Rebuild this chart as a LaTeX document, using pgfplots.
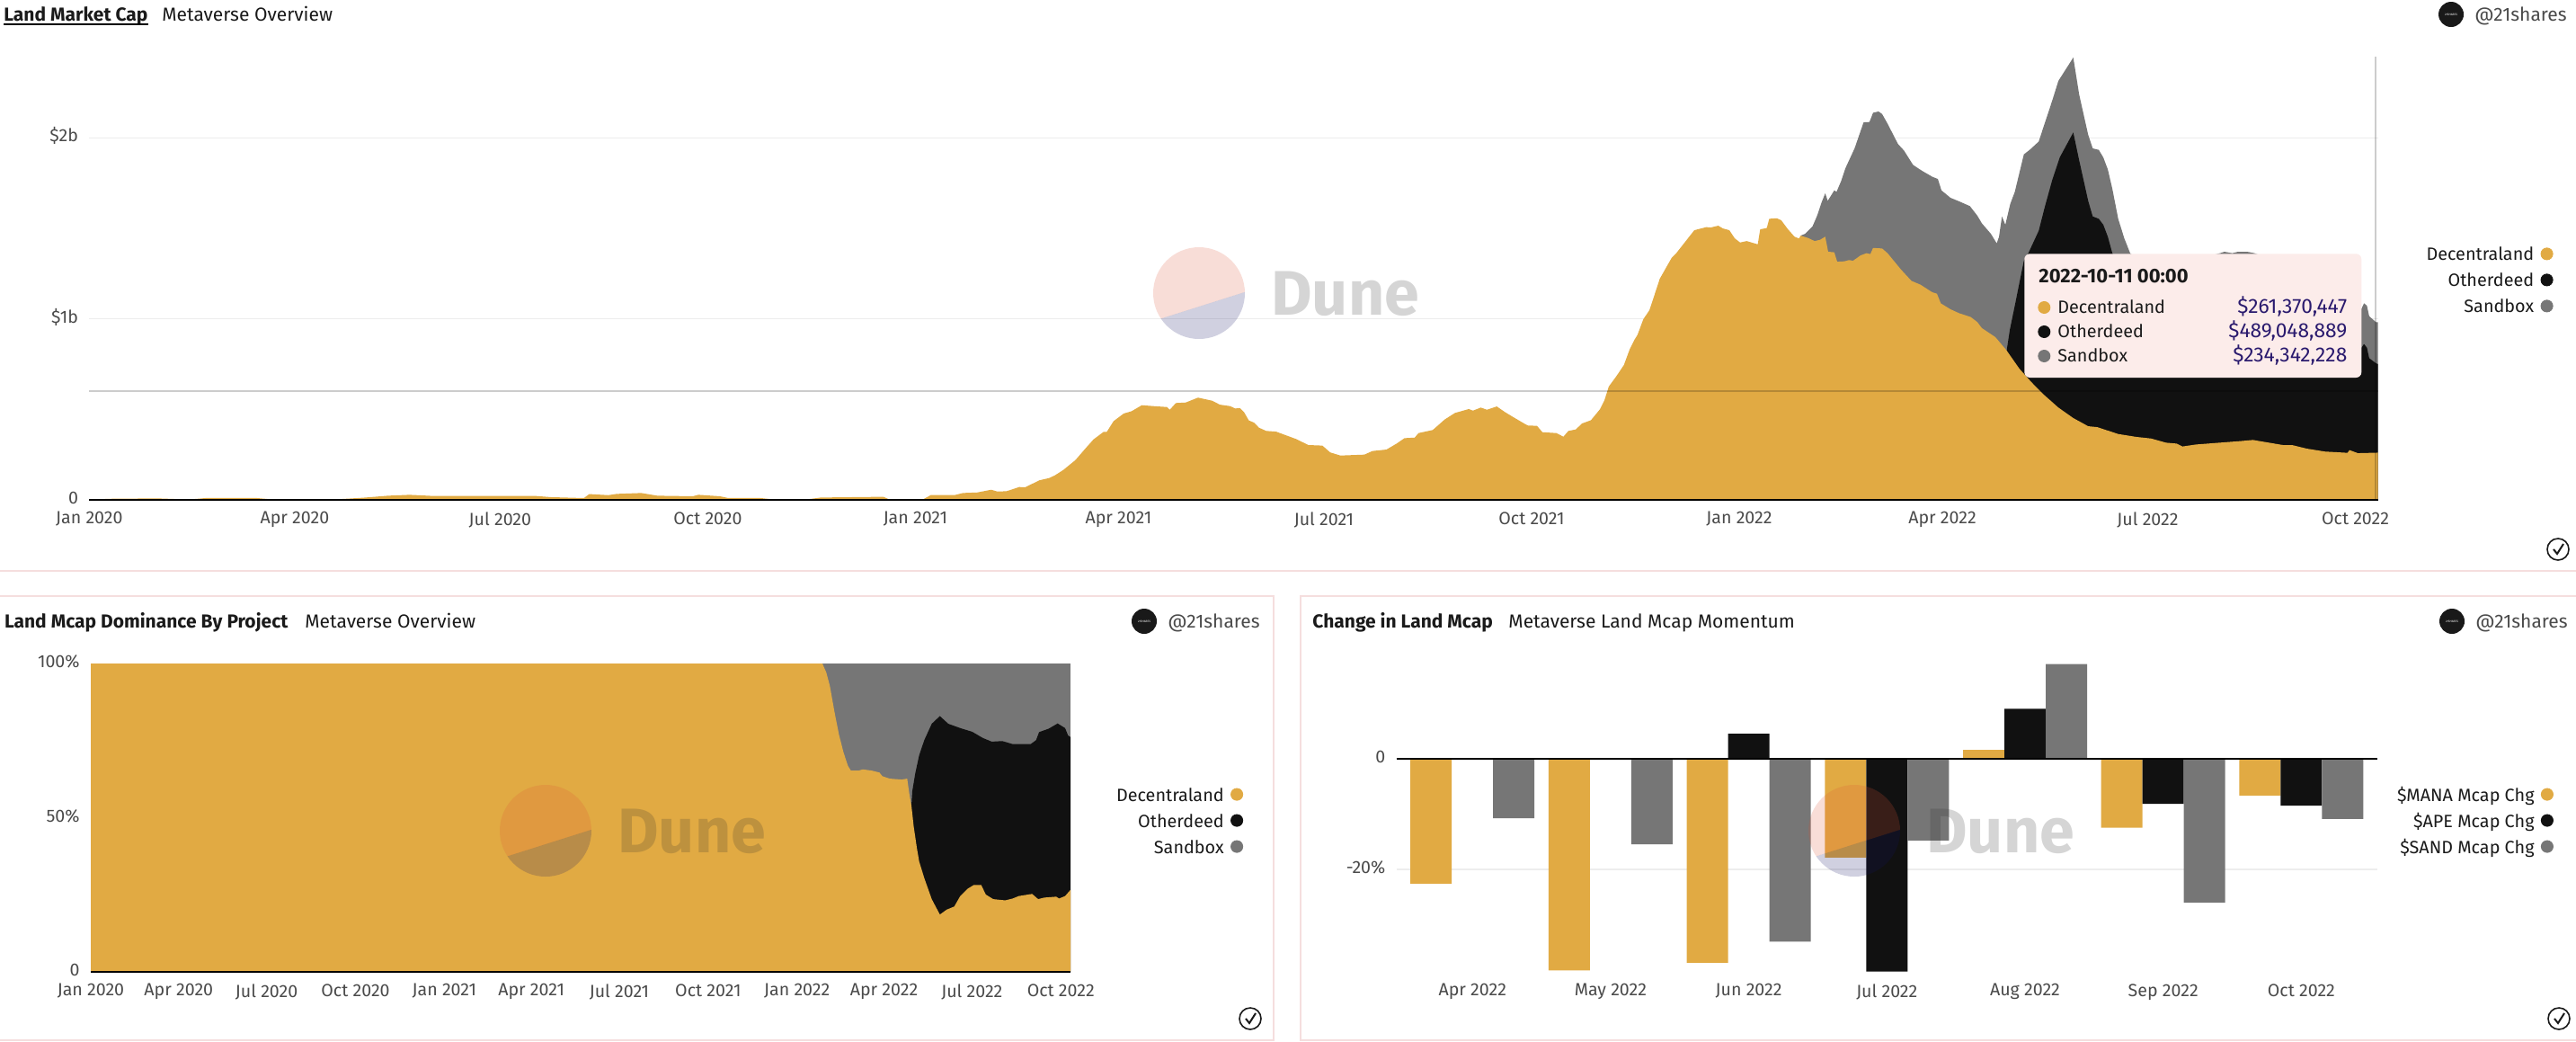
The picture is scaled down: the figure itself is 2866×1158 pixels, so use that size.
\documentclass[border=0pt]{standalone}
\usepackage{fontspec}
\setmainfont{Fira Sans}
\usepackage{pgfplots}
\pgfplotsset{compat=1.18}
\definecolor{dunegold}{HTML}{E1AA43}
\definecolor{duneblack}{HTML}{111111}
\definecolor{dunegray}{HTML}{767676}
\definecolor{ticktext}{HTML}{4A4A4A}
\definecolor{titletext}{HTML}{1A1A1A}
\definecolor{panelline}{HTML}{F5DEDE}
\definecolor{tipfill}{HTML}{FCECEA}
\definecolor{tipvalue}{HTML}{2A1A6E}
\definecolor{wmred}{RGB}{220,85,55}
\definecolor{wmblue}{RGB}{20,20,100}
\definecolor{wmtext}{RGB}{45,45,45}

% 1 image pixel = 0.5pt, tikz coordinates below are image pixels
\newcommand{\tickfont}{\fontsize{9.8}{11}\selectfont\color{ticktext}}
\newcommand{\legfont}{\fontsize{9.9}{12}\selectfont\color{titletext}}
\newcommand{\titlefont}{\fontsize{10.5}{13}\selectfont\color{titletext}}

\pgfplotsset{
  dune/.style={
    scale only axis,
    axis line style={draw=none},
    major tick length=0pt,
    tick style={draw=none},
    tick label style={font=\tickfont},
    xticklabel style={inner sep=0pt,yshift=-6.5pt},
    yticklabel style={inner sep=0pt,xshift=-6pt,yshift=1pt},
    ymajorgrids,
    grid style={color=black!7,line width=.7pt},
    clip=false,
    legend cell align=right,
    legend plot pos=right,
    legend style={draw=none,fill=none,inner sep=0pt,font=\legfont,
      row sep=7pt,
      nodes={inner sep=0pt,text height=7.5pt,text depth=0pt}},
  },
  area/.style={draw=none,fill=#1,forget plot},
  dot/.style={legend image code/.code={\path (-7pt,0) (3.3pt,0);\fill[#1] (0,0) circle[radius=3.3pt];}},
}
\tikzset{head/.style={anchor=west,inner sep=0pt,text height=8pt,text depth=2pt}}
\newcommand{\logo}[2]{% handle at pixel x, y
  \fill[black!90] (#1,#2) circle[radius=14];
  \node[white,font=\fontsize{1.6}{2}\selectfont] at (#1,#2) {21SHARES};
  \node[head,font=\titlefont\color{ticktext}] at ({#1+26},{#2+1.5}) {@21shares};
}
\newcommand{\chk}[2]{%
  \draw[black!90,line width=.8pt] (#1,#2) circle[radius=12];
  \draw[black!90,line width=1pt] ({#1-5},#2) -- ({#1-1},{#2+5}) -- ({#1+6},{#2-6});
}
\newcommand{\watermark}[2]{% circle centre
  \begin{scope}
    \clip (#1,#2) circle[radius=51];
    \fill[wmred,fill opacity=.2] ({#1-60},{#2+34}) -- ({#1+60},{#2-4}) -- ({#1+60},{#2-60}) -- ({#1-60},{#2-60}) -- cycle;
    \fill[wmblue,fill opacity=.2] ({#1-60},{#2+34}) -- ({#1+60},{#2-4}) -- ({#1+60},{#2+60}) -- ({#1-60},{#2+60}) -- cycle;
  \end{scope}
  \node[anchor=base west,inner sep=0pt,text=wmtext,text opacity=.2,font=\fontsize{35}{40}\selectfont\bfseries] at ({#1+80},{#2+24}) {Dune};
}

\begin{document}
\begin{tikzpicture}[x=.5pt,y=-.5pt]
\useasboundingbox (0,0) rectangle (2866,1158);

% panel frames
\draw[panelline,line width=.8pt] (0,635) -- (2866,635);
\draw[panelline,line width=.8pt] (0,663) -- (1417,663) -- (1417,1157) -- (0,1157);
\draw[panelline,line width=.8pt] (2866,663) -- (1447,663) -- (1447,1157) -- (2866,1157);

% Land Market Cap
\begin{axis}[dune,at={(49.7pt,-278pt)},anchor=south west,
  width=1273.15pt,height=246.5pt,
  xmin=0,xmax=1014,ymin=0,ymax=2.449,
  xtick={0,91,182,274,366,456,547,639,731,821,912,1004},
  xticklabels={Jan 2020,Apr 2020,Jul 2020,Oct 2020,Jan 2021,Apr 2021,Jul 2021,Oct 2021,Jan 2022,Apr 2022,Jul 2022,Oct 2022},
  ytick={0,1,2},yticklabels={0,\$1b,\$2b},
  legend style={at={(1.0767,.571)},anchor=north east}]
\addlegendimage{dot=dunegold}\addlegendentry{Decentraland}
\addlegendimage{dot=duneblack}\addlegendentry{Otherdeed}
\addlegendimage{dot=dunegray}\addlegendentry{Sandbox}
% cumulative tops: Decentraland + Otherdeed + Sandbox
\addplot[area=dunegray] coordinates {
(758.2,1.460)(760.2,1.470)(763.5,1.512)(765.5,1.570)(767.5,1.644)(769.1,1.694)(770.2,1.652)(773.1,1.710)
(774.1,1.702)(776.1,1.760)(778.1,1.834)(782.1,1.942)(786.1,2.086)(788.7,2.088)(790.3,2.139)(792.7,2.146)
(794.3,2.132)(796.7,2.079)(801.3,1.967)(804,1.930)(808,1.851)(812,1.818)(815.9,1.790)(816.6,1.785)
(819,1.773)(820.6,1.710)(824.6,1.669)(828.5,1.649)(833.2,1.623)(836.5,1.570)(838.5,1.528)(842.5,1.470)
(845.1,1.417)(846.1,1.454)(847.4,1.566)(848.9,1.520)(851.1,1.636)(853.1,1.702)(857.1,1.909)(859.7,1.934)
(863.7,1.980)(866.4,2.083)(869.7,2.207)(872.4,2.315)(879,2.444)(881.6,2.240)(885.6,2.017)(887.6,1.942)
(890.3,1.934)(892.3,1.892)(894.3,1.826)(896.3,1.719)(898.9,1.553)(901.6,1.445)(904.2,1.363)(912.2,1.280)
(922.8,1.296)(933.4,1.329)(944,1.363)(946,1.371)(949.4,1.363)(952,1.371)(956,1.371)(959.3,1.363)
(975.9,1.288)(989.2,1.189)(1002.4,1.073)(1006.7,1.056)(1007.8,1.086)(1009.1,1.073)(1010.1,1.015)(1013.1,.982)(1014,.982)
} \closedcycle;
% Decentraland + Otherdeed
\addplot[area=duneblack] coordinates {
(849.5,.825)(850.9,.940)(853.1,1.073)(857.1,1.321)(859.1,1.363)(863.7,1.487)(866.4,1.619)(869.7,1.768)
(873,1.892)(879,2.030)(881.6,1.876)(885.6,1.652)(887.6,1.566)(890.3,1.553)(892.3,1.520)(894.3,1.454)
(896.3,1.363)(902.9,1.189)(916.2,1.189)(929.4,1.189)(949.4,1.139)(975.9,1.023)(995.8,.858)(1006.7,.841)
(1007.8,.861)(1009.1,.841)(1010.1,.783)(1013.1,.755)(1014,.750)
} \closedcycle;
% Decentraland
\addplot[area=dunegold] coordinates {
(0,.002)(11.6,.007)(30.9,.008)(44.2,.002)(51.4,.010)(74.3,.010)(81.6,.002)(96.1,.002)(108.1,.002)(121.4,.012)
(132.3,.023)(141.9,.028)(151.6,.022)(175.7,.022)(197.4,.022)(204.6,.015)(219.1,.010)(221.5,.032)(230,.026)
(233.6,.033)(244.5,.038)(251.7,.023)(267.4,.020)(269.8,.028)(279.4,.020)(283.1,.010)(297.5,.010)(303.6,.002)
(318.1,.003)(324.1,.013)(351.8,.017)(354.3,.003)(366,.002)(369.7,.005)(372.9,.027)(383.6,.027)(387.1,.038)
(393.4,.041)(399.6,.056)(402.3,.046)(406.4,.048)(412,.071)(414.7,.070)(420.9,.108)(425.4,.121)(428,.137)
(431.6,.166)(436.9,.220)(441.4,.285)(444.9,.334)(449.4,.376)(450.8,.376)(453.8,.435)(458.3,.477)(461.8,.490)
(466.3,.523)(472.5,.517)(477.5,.513)(478.7,.498)(481.4,.535)(485.8,.538)(491.2,.565)(497.4,.548)(500.9,.526)
(505.4,.518)(507.7,.505)(509.8,.507)(511.6,.485)(513.7,.439)(516,.427)(518.2,.399)(521.4,.381)(525.8,.377)
(534.7,.336)(540.1,.303)(546.3,.300)(549.8,.262)(554.3,.245)(564.9,.250)(568.5,.270)(574.7,.278)(579.2,.311)
(582.7,.341)(587.2,.344)(588.9,.369)(595.2,.386)(600.5,.444)(605,.480)(611.2,.502)(613,.493)(616.5,.510)
(619.2,.498)(623.6,.516)(627.2,.485)(631.6,.452)(636.1,.419)(637.4,.411)(641.4,.409)(643.8,.374)(650,.369)
(653.1,.349)(655.3,.381)(658.6,.389)(661.3,.422)(665.3,.440)(669.3,.501)(671.3,.551)(673.2,.626)(676.6,.684)
(679.9,.745)(682.5,.833)(684.5,.883)(685.9,.911)(688.5,.998)(691.2,1.048)(693.2,1.123)(695.8,1.222)(701.1,1.338)
(703.1,1.363)(711.1,1.490)(716.4,1.507)(718.4,1.505)(721.7,1.515)(723.7,1.500)(726.6,1.490)(729,1.445)(731.4,1.422)
(734.3,1.430)(739.2,1.412)(740.3,1.495)(743.2,1.502)(744.3,1.553)(747.6,1.556)(749.6,1.545)(752.6,1.495)(755.5,1.454)
(757.5,1.444)(758.2,1.460)(761.5,1.447)(764.4,1.430)(766.8,1.437)(769.1,1.454)(770.4,1.371)(773.1,1.368)(774.4,1.316)
(777.5,1.318)(779.7,1.325)(781.4,1.321)(784.8,1.351)(787.4,1.363)(789.1,1.358)(790.3,1.392)(794.3,1.389)(796.7,1.363)
(802.7,1.272)(807.3,1.210)(811.3,1.189)(815.9,1.152)(816.6,1.147)(818.6,1.139)(820.3,1.086)(824.6,1.053)(828.5,1.031)
(833.6,1.010)(836.5,.982)(838.5,.949)(844.5,.899)(849.5,.825)(855.1,.725)(860.4,.651)(865.7,.584)(872.4,.510)
(879,.452)(885.6,.407)(889.6,.402)(898.9,.364)(906.9,.348)(913.5,.339)(920.1,.316)(924.8,.311)(927.4,.295)
(933.4,.306)(942.7,.315)(953.3,.325)(958.6,.331)(971.9,.303)(975.9,.303)(982.5,.283)(990.5,.267)(1000.5,.260)
(1001.4,.275)(1005.1,.258)(1014,.261)
} \closedcycle;
\draw[black,line width=1pt] (axis cs:0,0) -- (axis cs:1014,0);
\draw[black,opacity=.2,line width=1pt] (axis cs:0,.6) -- (axis cs:1014,.6);
\draw[black,opacity=.2,line width=1pt] (axis cs:1013,0) -- (axis cs:1013,2.449);
\end{axis}

% Land Mcap Dominance By Project
\begin{axis}[dune,at={(50.5pt,-540.5pt)},anchor=south west,
  width=545pt,height=171.4pt,
  xmin=0,xmax=1014,ymin=0,ymax=100,
  xtick={0,91,182,274,366,456,547,639,731,821,912,1004},
  xticklabels={Jan 2020,Apr 2020,Jul 2020,Oct 2020,Jan 2021,Apr 2021,Jul 2021,Oct 2021,Jan 2022,Apr 2022,Jul 2022,Oct 2022},
  ytick={0,50,100},yticklabels={0,50\%,100\%},
  legend style={at={(1.1766,.599)},anchor=north east}]
\addlegendimage{dot=dunegold}\addlegendentry{Decentraland}
\addlegendimage{dot=duneblack}\addlegendentry{Otherdeed}
\addlegendimage{dot=dunegray}\addlegendentry{Sandbox}
\addplot[area=dunegray] coordinates {(757,100)(1014,100)} \closedcycle;
\addplot[area=duneblack] coordinates {
(849.4,54.3)(850.3,58.7)(853.4,64.5)(857.4,70.3)(862.7,75.2)(870.4,80.5)(878.8,83)(887.5,80.5)(899.9,79.1)
(912.3,77.9)(923.2,75.9)(932.5,74.7)(943.3,74.9)(954.2,73.9)(972.8,73.9)(978.4,75.2)(981.5,77.8)(991.4,78.9)
(1000.7,80.6)(1008.4,79.1)(1011.5,76.7)(1014,76.2)
} \closedcycle;
\addplot[area=dunegold] coordinates {
(0,100)(757.3,100)(761.3,97.1)(765,92.7)(769.7,84.4)(774.3,77.1)(779,71.3)(783.6,66.9)(786.7,65.3)(794.5,65.3)
(799.1,65.7)(808.4,65.3)(816.2,64.7)(819.3,63.5)(827,62.7)(839.4,62.4)(845,62.7)(847.2,57.7)(849.4,53.8)
(851.8,47)(855,40.2)(857.4,35.8)(862.7,30.4)(870.4,23.6)(878.8,18.6)(885.9,20.2)(893.7,21.2)(899.9,24.6)
(907.7,27)(913.9,28.2)(921.6,28.2)(926.3,25.1)(934,23.6)(946.4,23.2)(954.2,23.8)(960.4,24.6)(974.3,25.3)
(980.5,23.6)(986.7,24.1)(999.2,24.4)(1002.2,23.8)(1008.4,24.6)(1014,26.6)
} \closedcycle;
\draw[black,line width=1pt] (axis cs:0,0) -- (axis cs:1014,0);
\end{axis}

% Change in Land Mcap
\begin{axis}[dune,at={(776.85pt,-540.5pt)},anchor=south west,
  width=545.6pt,height=171.4pt,
  xmin=-.55,xmax=6.55,ymin=-38.55,ymax=17.15,
  xtick={0,1,2,3,4,5,6},
  xticklabels={Apr 2022,May 2022,Jun 2022,Jul 2022,Aug 2022,Sep 2022,Oct 2022},
  ytick={-20,0},yticklabels={-20\%,0},
  ybar=0pt,bar width=23pt,
  legend style={at={(1.18,.599)},anchor=north east}]
\addlegendimage{dot=dunegold}\addlegendentry{\$MANA Mcap Chg}
\addlegendimage{dot=duneblack}\addlegendentry{\$APE Mcap Chg}
\addlegendimage{dot=dunegray}\addlegendentry{\$SAND Mcap Chg}
\addplot[area=dunegold,bar shift=-23pt] coordinates {(0,-22.6)(1,-38.3)(2,-36.9)(3,-17.9)(4,1.57)(5,-12.5)(6,-6.7)};
\addplot[area=duneblack,bar shift=0pt] coordinates {(0,0)(1,0)(2,4.5)(3,-38.5)(4,9.0)(5,-8.2)(6,-8.5)};
\addplot[area=dunegray,bar shift=23pt] coordinates {(0,-10.8)(1,-15.5)(2,-33.1)(3,-14.8)(4,17.1)(5,-26)(6,-10.9)};
\draw[black,line width=1pt] (axis cs:-.55,0) -- (axis cs:6.55,0);
\end{axis}

% watermarks over the plots
\watermark{1334}{326}
\watermark{607}{924}
\watermark{2063}{924}

% tooltip
\fill[tipfill,rounded corners=3pt] (2252.3,282.3) rectangle (2627.3,420);
\node[anchor=west,inner sep=0pt,font=\fontsize{11}{12}\selectfont\bfseries\color{titletext}] at (2268,307) {2022-10-11 00:00};
\foreach \yy/\cc/\nn/\vv in {342/dunegold/Decentraland/\$261{,}370{,}447,369/duneblack/Otherdeed/\$489{,}048{,}889,396/dunegray/Sandbox/\$234{,}342{,}228}{
  \fill[\cc] (2274.3,\yy) circle[radius=7];
  \node[head,font=\legfont] at (2289,\yy) {\nn};
  \node[head,anchor=east,font=\fontsize{11.4}{12}\selectfont\color{tipvalue}] at (2611.7,\yy) {\vv};
}

% headers
\node[head,font=\titlefont\bfseries] at (4,17.5) {Land Market Cap};
\draw[black,line width=1pt] (4,27) -- (165,27);
\node[head,font=\titlefont] at (180,17.5) {Metaverse Overview};
\logo{2727}{16}
\node[head,font=\titlefont\bfseries] at (4.6,692.5) {Land Mcap Dominance By Project};
\node[head,font=\titlefont] at (339,692.5) {Metaverse Overview};
\logo{1273}{691}
\node[head,font=\titlefont\bfseries] at (1460,692.5) {Change in Land Mcap};
\node[head,font=\titlefont] at (1678,692.5) {Metaverse Land Mcap Momentum};
\logo{2728}{691}

\chk{2846}{611}
\chk{1391}{1133}
\chk{2847}{1133}
\end{tikzpicture}
\end{document}
